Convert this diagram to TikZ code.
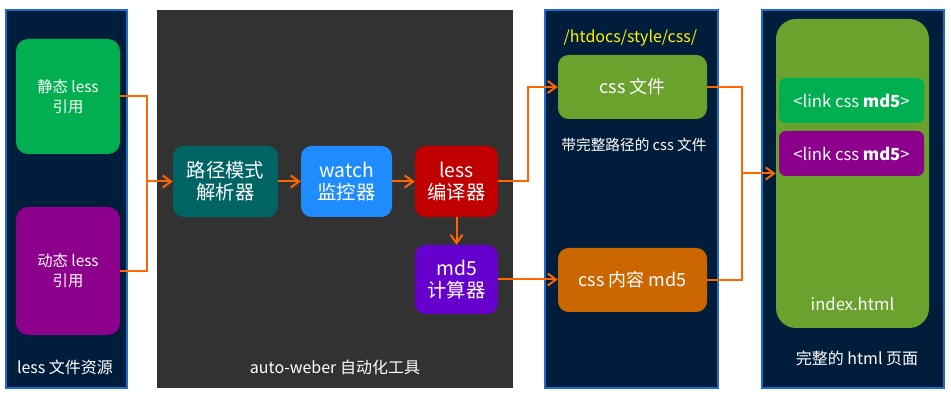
\documentclass[tikz,border=0pt]{standalone}
\usepackage{fontspec}
\setmainfont{Noto Sans CJK SC}
\usepackage{tikz}
\usetikzlibrary{arrows.meta, positioning}

\definecolor{panelnavy}{RGB}{0,30,60}
\definecolor{paneledge}{RGB}{30,110,200}
\definecolor{panelgray}{RGB}{50,50,50}
\definecolor{srcgreen}{RGB}{0,176,80}
\definecolor{srcpurple}{RGB}{140,0,140}
\definecolor{parseteal}{RGB}{0,100,100}
\definecolor{watchblue}{RGB}{30,140,255}
\definecolor{lessred}{RGB}{192,0,0}
\definecolor{md5violet}{RGB}{102,0,204}
\definecolor{cssolive}{RGB}{106,162,46}
\definecolor{cssorange}{RGB}{204,102,0}
\definecolor{flow}{RGB}{255,102,0}

\begin{document}
\begin{tikzpicture}[
  x=0.75pt, y=-0.75pt,
  panel/.style={rectangle, draw=paneledge, line width=0.8pt, fill=panelnavy,
               minimum height=283.5pt, inner sep=0pt},
  box/.style={rectangle, rounded corners=9pt, text=white, align=center,
             inner sep=2pt, font=\fontsize{11.5}{15}\selectfont},
  srcbox/.style={box, minimum width=78pt},
  toolbox/.style={box, rounded corners=8pt, minimum height=53.25pt,
                 font=\fontsize{14.5}{16.5}\selectfont},
  cssbox/.style={box, rounded corners=8pt, minimum width=111.75pt,
                minimum height=48pt, font=\fontsize{13.5}{15}\selectfont},
  linkbox/.style={box, rounded corners=5pt, minimum width=108.75pt,
                 minimum height=33.75pt, font=\fontsize{12.5}{14}\selectfont},
  caption/.style={text=white, font=\fontsize{12}{14}\selectfont},
  line/.style={draw=flow, line width=1.5pt},
  arrow/.style={line, -{Straight Barb[length=2.2mm, width=3.2mm]}}
]
\useasboundingbox[fill=white] (0,0) rectangle (951,406);

% panels
\node[panel, minimum width=90.75pt] (srcpanel) at (66.5,199) {};
\node[panel, draw=none, fill=panelgray, minimum width=267pt] (toolpanel) at (335,199) {};
\node[panel, minimum width=129.75pt] (csspanel) at (631.5,199) {};
\node[panel, minimum width=136.5pt] (htmlpanel) at (853,199) {};

% less sources
\node[srcbox, fill=srcgreen, minimum height=86.25pt] (static) at (68,96.5) {静态 less\\引用};
\node[srcbox, fill=srcpurple, minimum height=96pt] (dynamic) at (68,271) {动态 less\\引用};
\node[caption] (srclabel) at (65,367) {less 文件资源};

% auto-weber
\node[toolbox, fill=parseteal, minimum width=78.75pt] (parse) at (225.5,181.5) {路径模式\\解析器};
\node[toolbox, fill=watchblue, minimum width=68.25pt] (watch) at (346.5,181.5) {watch\\监控器};
\node[toolbox, fill=lessred, minimum width=62.25pt] (compile) at (456.5,181.5) {less\\编译器};
\node[toolbox, fill=md5violet, minimum width=62.25pt, minimum height=51.75pt] (md5) at (456.5,279.5) {md5\\计算器};
\node[caption] (toollabel) at (335,367) {auto-weber 自动化工具};

% css output
\node[text=yellow, font=\fontsize{12}{14}\selectfont, anchor=west] (csspath) at (559,38) {/htdocs/style/css/};
\node[cssbox, fill=cssolive] (cssfile) at (632.5,87) {css 文件};
\node[caption, font=\fontsize{11}{13}\selectfont] (cssnote) at (634,145) {带完整路径的 css 文件};
\node[cssbox, fill=cssorange] (csshash) at (632.5,280) {css 内容 md5};

% html page
\node[box, rounded corners=15pt, fill=cssolive, minimum width=114.75pt,
      minimum height=231.75pt] (index) at (852.5,173.5) {};
\node[caption, font=\fontsize{12.5}{14}\selectfont] (indexlabel) at (852.5,304) {index.html};
\node[linkbox, fill=srcgreen] (link1) at (851.5,100.5) {<link css \textbf{md5}>};
\node[linkbox, fill=srcpurple] (link2) at (851.5,153.5) {<link css \textbf{md5}>};
\node[caption] (htmllabel) at (857,358) {完整的 html 页面};

% connectors
\coordinate (srcjoin) at (147,181.5);
\coordinate (cssjoin) at (742,173.5);
\draw[line] (static.east) -| (srcjoin);
\draw[line] (dynamic.east) -| (srcjoin);
\draw[arrow] (srcjoin) -- (parse.west);
\draw[arrow] (parse) -- (watch);
\draw[arrow] (watch) -- (compile);
\draw[arrow] (compile.east) -- ++(30,0) |- (cssfile.west);
\draw[arrow] (compile) -- (md5);
\draw[arrow] (md5.east) -- (md5.east -| csshash.west);
\draw[line] (cssfile.east) -| (cssjoin);
\draw[line] (csshash.east) -| (cssjoin);
\draw[arrow] (cssjoin) -- (cssjoin -| index.west);

\end{tikzpicture}
\end{document}
